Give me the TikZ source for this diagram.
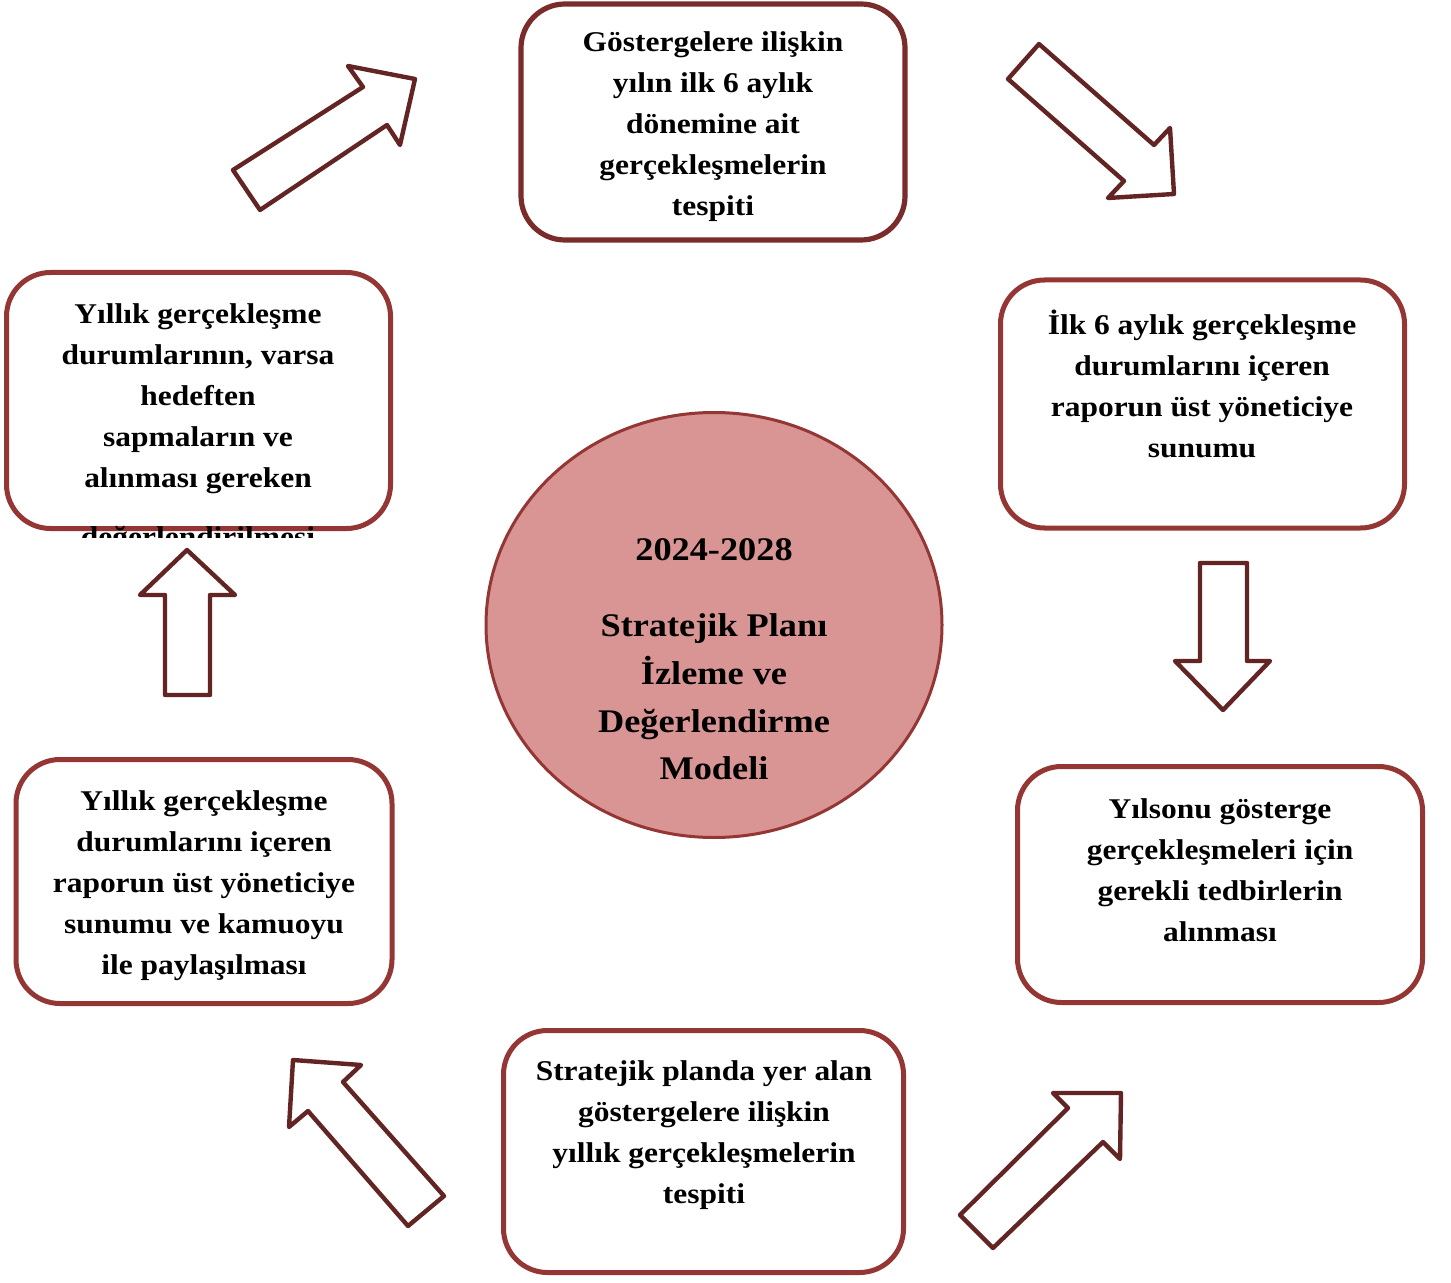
\documentclass[tikz,border=0pt]{standalone}
\usepackage{fontspec}
\setmainfont[FakeStretch=1.1]{Liberation Serif}
\usetikzlibrary{shapes.geometric,shadows}
\definecolor{boxred}{HTML}{943634}
\definecolor{arrowred}{HTML}{632523}
\definecolor{circfill}{HTML}{D99594}
\definecolor{topred}{HTML}{7A2C2A}
\tikzset{
  box/.style={draw=boxred, line width=2.5pt, rounded corners=22pt, fill=white, inner sep=0pt},
  topbox/.style={draw=topred, line width=2.6pt, rounded corners=22pt, fill=white, inner sep=0pt,
     drop shadow={opacity=0.45, shadow xshift=0.8pt, shadow yshift=-1pt, fill=topred}},
  txt/.style={align=center, inner sep=0pt, font=\fontsize{14.3pt}{20.5pt}\selectfont\bfseries},
  ctxt/.style={align=center, inner sep=0pt, font=\fontsize{16.5pt}{23.8pt}\selectfont\bfseries},
  bigarrow/.style={draw=arrowred, line width=2.2pt, line join=round, fill=white}
}
\begin{document}
\begin{tikzpicture}[x=0.5pt,y=-0.5pt]
\useasboundingbox[fill=white] (0,0) rectangle (1451,1283);

% boxes
\node[topbox, minimum width=192pt, minimum height=118pt] (top) at (713,122) {};
\node[txt] (toptxt) at (713,127) {Göstergelere ilişkin\\yılın ilk 6 aylık\\dönemine ait\\gerçekleşmelerin\\tespiti};

\node[box, minimum width=202pt, minimum height=124pt] (r1) at (1202.5,404) {};
\node[txt] (r1txt) at (1202,384) {İlk 6 aylık gerçekleşme\\durumlarını içeren\\raporun üst yöneticiye\\sunumu};

\node[box, minimum width=202.5pt, minimum height=118pt] (r2) at (1220,884.5) {};
\node[txt] (r2txt) at (1220,870) {Yılsonu gösterge\\gerçekleşmeleri için\\gerekli tedbirlerin\\alınması};

\node[box, minimum width=200pt, minimum height=121pt] (bot) at (703.5,1151.5) {};
\node[txt] (bottxt) at (704,1135.5) {Stratejik planda yer alan\\göstergelere ilişkin\\yıllık gerçekleşmelerin\\tespiti};

\node[box, minimum width=188pt, minimum height=122pt] (ll) at (204,881.5) {};
\node[txt] (lltxt) at (204,885.5) {Yıllık gerçekleşme\\durumlarını içeren\\raporun üst yöneticiye\\sunumu ve kamuoyu\\ile paylaşılması};

\node[box, minimum width=192pt, minimum height=128pt] (lu) at (198.5,400.5) {};
\node[txt] (lutxt) at (198,398.5) {Yıllık gerçekleşme\\durumlarının, varsa\\hedeften\\sapmaların ve\\alınması gereken};
\begin{scope}
  \clip (0,520) rectangle (420,537);
  \node[txt] (lutxt2) at (198,540) {değerlendirilmesi};
\end{scope}

% centre ellipse
\node[ellipse, draw=boxred, line width=1.5pt, fill=circfill, minimum width=228pt, minimum height=212.5pt, inner sep=0pt] (c) at (714,625) {};
\node[ctxt] (cyear) at (714,550) {2024-2028};
\node[ctxt] (ctitle) at (714,697) {Stratejik Planı\\İzleme ve\\Değerlendirme\\Modeli};

% block arrows
\draw[bigarrow] (233,170) -- (363,87) -- (348,66) -- (415,79) -- (400,145) -- (387,125) -- (260,210) -- cycle;
\draw[bigarrow] (1039,44) -- (1154,145) -- (1170,128) -- (1174,194) -- (1108,198) -- (1124,181) -- (1008,79) -- cycle;
\draw[bigarrow] (1200,563) -- (1247,563) -- (1247,661) -- (1270,661) -- (1223,710) -- (1175,661) -- (1200,661) -- cycle;
\draw[bigarrow] (960,1215) -- (1068,1108) -- (1053,1093) -- (1121,1093) -- (1120,1159) -- (1103,1142) -- (993,1248) -- cycle;
\draw[bigarrow] (444,1196) -- (343,1082) -- (361,1065) -- (293,1060) -- (289,1127) -- (308,1111) -- (408,1226) -- cycle;
\draw[bigarrow] (165,695) -- (165,595) -- (140,595) -- (187,550) -- (235,595) -- (210,595) -- (210,695) -- cycle;
\end{tikzpicture}
\end{document}
